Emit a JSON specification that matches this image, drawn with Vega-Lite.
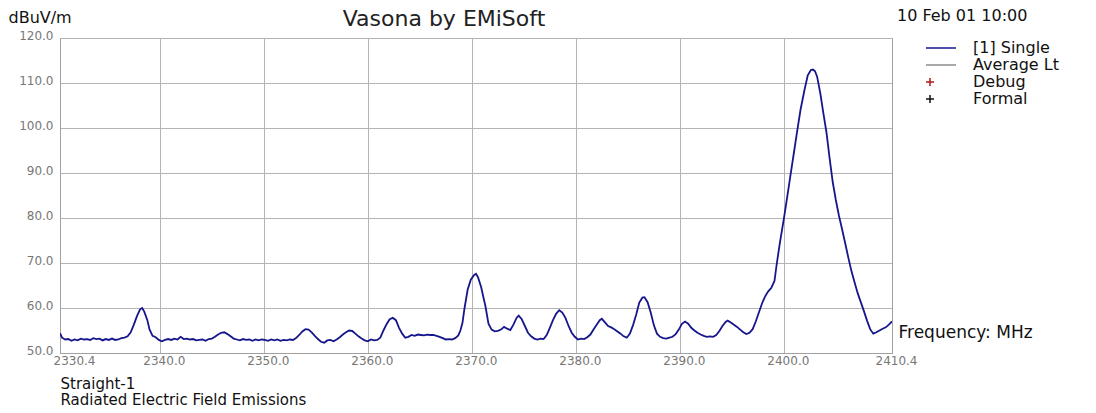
{
  "$schema": "https://vega.github.io/schema/vega-lite/v6.json",
  "autosize": "none",
  "width": 832,
  "height": 315,
  "padding": {"left": 60, "top": 38, "right": 204, "bottom": 60},
  "background": "white",
  "config": {
    "font": "DejaVu Sans",
    "view": {"stroke": "#a0a0a0", "strokeWidth": 1}
  },
  "title": {
    "text": "Vasona by EMiSoft",
    "fontSize": 22,
    "font": "DejaVu Sans",
    "fontWeight": "normal",
    "color": "#222222",
    "anchor": "middle",
    "dx": -32,
    "dy": 31,
    "offset": 8
  },
  "data": {
    "values": [
      {"f": 2330.4, "v": 54.4, "s": "[1] Single"},
      {"f": 2330.6, "v": 53.4, "s": "[1] Single"},
      {"f": 2330.9, "v": 53.0, "s": "[1] Single"},
      {"f": 2331.2, "v": 53.1, "s": "[1] Single"},
      {"f": 2331.5, "v": 52.7, "s": "[1] Single"},
      {"f": 2331.8, "v": 53.0, "s": "[1] Single"},
      {"f": 2332.1, "v": 52.8, "s": "[1] Single"},
      {"f": 2332.4, "v": 53.2, "s": "[1] Single"},
      {"f": 2332.7, "v": 53.0, "s": "[1] Single"},
      {"f": 2333.0, "v": 53.1, "s": "[1] Single"},
      {"f": 2333.3, "v": 52.9, "s": "[1] Single"},
      {"f": 2333.6, "v": 53.3, "s": "[1] Single"},
      {"f": 2333.9, "v": 53.1, "s": "[1] Single"},
      {"f": 2334.2, "v": 53.2, "s": "[1] Single"},
      {"f": 2334.5, "v": 52.8, "s": "[1] Single"},
      {"f": 2334.8, "v": 53.1, "s": "[1] Single"},
      {"f": 2335.1, "v": 52.9, "s": "[1] Single"},
      {"f": 2335.4, "v": 53.2, "s": "[1] Single"},
      {"f": 2335.7, "v": 52.9, "s": "[1] Single"},
      {"f": 2336.0, "v": 53.0, "s": "[1] Single"},
      {"f": 2336.3, "v": 53.3, "s": "[1] Single"},
      {"f": 2336.6, "v": 53.4, "s": "[1] Single"},
      {"f": 2336.9, "v": 53.7, "s": "[1] Single"},
      {"f": 2337.2, "v": 54.6, "s": "[1] Single"},
      {"f": 2337.5, "v": 56.3, "s": "[1] Single"},
      {"f": 2337.8, "v": 58.2, "s": "[1] Single"},
      {"f": 2338.1, "v": 59.7, "s": "[1] Single"},
      {"f": 2338.3, "v": 60.0, "s": "[1] Single"},
      {"f": 2338.5, "v": 59.2, "s": "[1] Single"},
      {"f": 2338.8, "v": 57.3, "s": "[1] Single"},
      {"f": 2339.0, "v": 55.3, "s": "[1] Single"},
      {"f": 2339.3, "v": 53.8, "s": "[1] Single"},
      {"f": 2339.6, "v": 53.5, "s": "[1] Single"},
      {"f": 2339.9, "v": 52.9, "s": "[1] Single"},
      {"f": 2340.2, "v": 52.6, "s": "[1] Single"},
      {"f": 2340.5, "v": 52.9, "s": "[1] Single"},
      {"f": 2340.8, "v": 53.1, "s": "[1] Single"},
      {"f": 2341.1, "v": 52.9, "s": "[1] Single"},
      {"f": 2341.4, "v": 53.2, "s": "[1] Single"},
      {"f": 2341.7, "v": 53.0, "s": "[1] Single"},
      {"f": 2342.0, "v": 53.6, "s": "[1] Single"},
      {"f": 2342.3, "v": 53.1, "s": "[1] Single"},
      {"f": 2342.6, "v": 53.2, "s": "[1] Single"},
      {"f": 2342.9, "v": 53.0, "s": "[1] Single"},
      {"f": 2343.2, "v": 53.1, "s": "[1] Single"},
      {"f": 2343.5, "v": 52.8, "s": "[1] Single"},
      {"f": 2343.8, "v": 52.9, "s": "[1] Single"},
      {"f": 2344.1, "v": 53.0, "s": "[1] Single"},
      {"f": 2344.4, "v": 52.7, "s": "[1] Single"},
      {"f": 2344.7, "v": 53.1, "s": "[1] Single"},
      {"f": 2345.0, "v": 53.2, "s": "[1] Single"},
      {"f": 2345.3, "v": 53.6, "s": "[1] Single"},
      {"f": 2345.6, "v": 54.1, "s": "[1] Single"},
      {"f": 2345.9, "v": 54.5, "s": "[1] Single"},
      {"f": 2346.2, "v": 54.6, "s": "[1] Single"},
      {"f": 2346.5, "v": 54.2, "s": "[1] Single"},
      {"f": 2346.8, "v": 53.7, "s": "[1] Single"},
      {"f": 2347.1, "v": 53.2, "s": "[1] Single"},
      {"f": 2347.4, "v": 53.0, "s": "[1] Single"},
      {"f": 2347.7, "v": 52.8, "s": "[1] Single"},
      {"f": 2348.0, "v": 53.1, "s": "[1] Single"},
      {"f": 2348.3, "v": 52.9, "s": "[1] Single"},
      {"f": 2348.6, "v": 53.0, "s": "[1] Single"},
      {"f": 2348.9, "v": 52.7, "s": "[1] Single"},
      {"f": 2349.2, "v": 53.0, "s": "[1] Single"},
      {"f": 2349.5, "v": 52.8, "s": "[1] Single"},
      {"f": 2349.8, "v": 53.0, "s": "[1] Single"},
      {"f": 2350.1, "v": 52.9, "s": "[1] Single"},
      {"f": 2350.4, "v": 52.7, "s": "[1] Single"},
      {"f": 2350.7, "v": 53.0, "s": "[1] Single"},
      {"f": 2351.0, "v": 52.8, "s": "[1] Single"},
      {"f": 2351.3, "v": 53.0, "s": "[1] Single"},
      {"f": 2351.6, "v": 52.7, "s": "[1] Single"},
      {"f": 2351.9, "v": 52.9, "s": "[1] Single"},
      {"f": 2352.2, "v": 52.8, "s": "[1] Single"},
      {"f": 2352.5, "v": 53.0, "s": "[1] Single"},
      {"f": 2352.8, "v": 52.9, "s": "[1] Single"},
      {"f": 2353.1, "v": 53.3, "s": "[1] Single"},
      {"f": 2353.4, "v": 54.0, "s": "[1] Single"},
      {"f": 2353.7, "v": 54.8, "s": "[1] Single"},
      {"f": 2354.0, "v": 55.3, "s": "[1] Single"},
      {"f": 2354.3, "v": 55.2, "s": "[1] Single"},
      {"f": 2354.6, "v": 54.6, "s": "[1] Single"},
      {"f": 2354.9, "v": 53.8, "s": "[1] Single"},
      {"f": 2355.2, "v": 53.1, "s": "[1] Single"},
      {"f": 2355.5, "v": 52.5, "s": "[1] Single"},
      {"f": 2355.8, "v": 52.3, "s": "[1] Single"},
      {"f": 2356.1, "v": 52.8, "s": "[1] Single"},
      {"f": 2356.4, "v": 52.9, "s": "[1] Single"},
      {"f": 2356.7, "v": 52.6, "s": "[1] Single"},
      {"f": 2357.0, "v": 53.0, "s": "[1] Single"},
      {"f": 2357.3, "v": 53.5, "s": "[1] Single"},
      {"f": 2357.6, "v": 54.1, "s": "[1] Single"},
      {"f": 2357.9, "v": 54.6, "s": "[1] Single"},
      {"f": 2358.2, "v": 55.0, "s": "[1] Single"},
      {"f": 2358.5, "v": 54.9, "s": "[1] Single"},
      {"f": 2358.8, "v": 54.3, "s": "[1] Single"},
      {"f": 2359.1, "v": 53.7, "s": "[1] Single"},
      {"f": 2359.4, "v": 53.2, "s": "[1] Single"},
      {"f": 2359.7, "v": 52.8, "s": "[1] Single"},
      {"f": 2360.0, "v": 52.6, "s": "[1] Single"},
      {"f": 2360.3, "v": 53.0, "s": "[1] Single"},
      {"f": 2360.6, "v": 52.8, "s": "[1] Single"},
      {"f": 2360.9, "v": 52.9, "s": "[1] Single"},
      {"f": 2361.2, "v": 53.4, "s": "[1] Single"},
      {"f": 2361.5, "v": 55.0, "s": "[1] Single"},
      {"f": 2361.8, "v": 56.4, "s": "[1] Single"},
      {"f": 2362.1, "v": 57.5, "s": "[1] Single"},
      {"f": 2362.4, "v": 57.8, "s": "[1] Single"},
      {"f": 2362.7, "v": 57.3, "s": "[1] Single"},
      {"f": 2363.0, "v": 55.6, "s": "[1] Single"},
      {"f": 2363.3, "v": 54.3, "s": "[1] Single"},
      {"f": 2363.6, "v": 53.4, "s": "[1] Single"},
      {"f": 2363.9, "v": 53.6, "s": "[1] Single"},
      {"f": 2364.2, "v": 54.0, "s": "[1] Single"},
      {"f": 2364.5, "v": 53.8, "s": "[1] Single"},
      {"f": 2364.8, "v": 54.1, "s": "[1] Single"},
      {"f": 2365.1, "v": 54.0, "s": "[1] Single"},
      {"f": 2365.4, "v": 53.9, "s": "[1] Single"},
      {"f": 2365.7, "v": 54.1, "s": "[1] Single"},
      {"f": 2366.0, "v": 54.0, "s": "[1] Single"},
      {"f": 2366.3, "v": 54.0, "s": "[1] Single"},
      {"f": 2366.6, "v": 53.8, "s": "[1] Single"},
      {"f": 2366.9, "v": 53.6, "s": "[1] Single"},
      {"f": 2367.2, "v": 53.3, "s": "[1] Single"},
      {"f": 2367.5, "v": 53.0, "s": "[1] Single"},
      {"f": 2367.8, "v": 53.1, "s": "[1] Single"},
      {"f": 2368.1, "v": 53.0, "s": "[1] Single"},
      {"f": 2368.4, "v": 53.3, "s": "[1] Single"},
      {"f": 2368.7, "v": 53.9, "s": "[1] Single"},
      {"f": 2368.9, "v": 55.0, "s": "[1] Single"},
      {"f": 2369.1, "v": 56.7, "s": "[1] Single"},
      {"f": 2369.3, "v": 60.0, "s": "[1] Single"},
      {"f": 2369.6, "v": 64.1, "s": "[1] Single"},
      {"f": 2369.9, "v": 66.3, "s": "[1] Single"},
      {"f": 2370.2, "v": 67.3, "s": "[1] Single"},
      {"f": 2370.4, "v": 67.6, "s": "[1] Single"},
      {"f": 2370.6, "v": 66.8, "s": "[1] Single"},
      {"f": 2370.9, "v": 64.6, "s": "[1] Single"},
      {"f": 2371.1, "v": 62.5, "s": "[1] Single"},
      {"f": 2371.3, "v": 60.5, "s": "[1] Single"},
      {"f": 2371.6, "v": 56.5, "s": "[1] Single"},
      {"f": 2371.9, "v": 55.2, "s": "[1] Single"},
      {"f": 2372.2, "v": 54.8, "s": "[1] Single"},
      {"f": 2372.5, "v": 54.9, "s": "[1] Single"},
      {"f": 2372.8, "v": 55.2, "s": "[1] Single"},
      {"f": 2373.1, "v": 55.8, "s": "[1] Single"},
      {"f": 2373.4, "v": 55.4, "s": "[1] Single"},
      {"f": 2373.7, "v": 55.1, "s": "[1] Single"},
      {"f": 2374.0, "v": 56.3, "s": "[1] Single"},
      {"f": 2374.3, "v": 57.8, "s": "[1] Single"},
      {"f": 2374.5, "v": 58.3, "s": "[1] Single"},
      {"f": 2374.8, "v": 57.5, "s": "[1] Single"},
      {"f": 2375.1, "v": 56.0, "s": "[1] Single"},
      {"f": 2375.4, "v": 54.5, "s": "[1] Single"},
      {"f": 2375.7, "v": 53.7, "s": "[1] Single"},
      {"f": 2376.0, "v": 53.2, "s": "[1] Single"},
      {"f": 2376.3, "v": 53.0, "s": "[1] Single"},
      {"f": 2376.6, "v": 53.2, "s": "[1] Single"},
      {"f": 2376.9, "v": 53.1, "s": "[1] Single"},
      {"f": 2377.2, "v": 54.0, "s": "[1] Single"},
      {"f": 2377.5, "v": 55.6, "s": "[1] Single"},
      {"f": 2377.8, "v": 57.3, "s": "[1] Single"},
      {"f": 2378.1, "v": 58.7, "s": "[1] Single"},
      {"f": 2378.4, "v": 59.5, "s": "[1] Single"},
      {"f": 2378.7, "v": 59.0, "s": "[1] Single"},
      {"f": 2379.0, "v": 57.8, "s": "[1] Single"},
      {"f": 2379.3, "v": 56.0, "s": "[1] Single"},
      {"f": 2379.6, "v": 54.5, "s": "[1] Single"},
      {"f": 2379.9, "v": 53.6, "s": "[1] Single"},
      {"f": 2380.2, "v": 53.0, "s": "[1] Single"},
      {"f": 2380.5, "v": 53.2, "s": "[1] Single"},
      {"f": 2380.8, "v": 53.1, "s": "[1] Single"},
      {"f": 2381.1, "v": 53.5, "s": "[1] Single"},
      {"f": 2381.4, "v": 54.1, "s": "[1] Single"},
      {"f": 2381.7, "v": 55.2, "s": "[1] Single"},
      {"f": 2382.0, "v": 56.3, "s": "[1] Single"},
      {"f": 2382.3, "v": 57.3, "s": "[1] Single"},
      {"f": 2382.5, "v": 57.6, "s": "[1] Single"},
      {"f": 2382.8, "v": 56.8, "s": "[1] Single"},
      {"f": 2383.1, "v": 56.0, "s": "[1] Single"},
      {"f": 2383.4, "v": 55.7, "s": "[1] Single"},
      {"f": 2383.7, "v": 55.3, "s": "[1] Single"},
      {"f": 2384.0, "v": 54.8, "s": "[1] Single"},
      {"f": 2384.3, "v": 54.3, "s": "[1] Single"},
      {"f": 2384.6, "v": 53.7, "s": "[1] Single"},
      {"f": 2384.9, "v": 53.4, "s": "[1] Single"},
      {"f": 2385.2, "v": 54.3, "s": "[1] Single"},
      {"f": 2385.5, "v": 56.2, "s": "[1] Single"},
      {"f": 2385.8, "v": 58.5, "s": "[1] Single"},
      {"f": 2386.1, "v": 61.2, "s": "[1] Single"},
      {"f": 2386.4, "v": 62.3, "s": "[1] Single"},
      {"f": 2386.6, "v": 62.4, "s": "[1] Single"},
      {"f": 2386.9, "v": 61.3, "s": "[1] Single"},
      {"f": 2387.2, "v": 59.0, "s": "[1] Single"},
      {"f": 2387.5, "v": 56.2, "s": "[1] Single"},
      {"f": 2387.8, "v": 54.3, "s": "[1] Single"},
      {"f": 2388.1, "v": 53.6, "s": "[1] Single"},
      {"f": 2388.4, "v": 53.3, "s": "[1] Single"},
      {"f": 2388.7, "v": 53.2, "s": "[1] Single"},
      {"f": 2389.0, "v": 53.4, "s": "[1] Single"},
      {"f": 2389.3, "v": 53.6, "s": "[1] Single"},
      {"f": 2389.6, "v": 54.2, "s": "[1] Single"},
      {"f": 2389.9, "v": 55.2, "s": "[1] Single"},
      {"f": 2390.2, "v": 56.5, "s": "[1] Single"},
      {"f": 2390.5, "v": 57.0, "s": "[1] Single"},
      {"f": 2390.8, "v": 56.5, "s": "[1] Single"},
      {"f": 2391.1, "v": 55.6, "s": "[1] Single"},
      {"f": 2391.4, "v": 55.0, "s": "[1] Single"},
      {"f": 2391.7, "v": 54.5, "s": "[1] Single"},
      {"f": 2392.0, "v": 54.1, "s": "[1] Single"},
      {"f": 2392.3, "v": 53.8, "s": "[1] Single"},
      {"f": 2392.6, "v": 53.6, "s": "[1] Single"},
      {"f": 2392.9, "v": 53.7, "s": "[1] Single"},
      {"f": 2393.2, "v": 53.6, "s": "[1] Single"},
      {"f": 2393.5, "v": 54.0, "s": "[1] Single"},
      {"f": 2393.8, "v": 54.9, "s": "[1] Single"},
      {"f": 2394.1, "v": 56.0, "s": "[1] Single"},
      {"f": 2394.4, "v": 56.9, "s": "[1] Single"},
      {"f": 2394.6, "v": 57.2, "s": "[1] Single"},
      {"f": 2394.9, "v": 56.8, "s": "[1] Single"},
      {"f": 2395.2, "v": 56.3, "s": "[1] Single"},
      {"f": 2395.5, "v": 55.8, "s": "[1] Single"},
      {"f": 2395.8, "v": 55.2, "s": "[1] Single"},
      {"f": 2396.1, "v": 54.6, "s": "[1] Single"},
      {"f": 2396.4, "v": 54.2, "s": "[1] Single"},
      {"f": 2396.7, "v": 54.5, "s": "[1] Single"},
      {"f": 2397.0, "v": 55.3, "s": "[1] Single"},
      {"f": 2397.3, "v": 57.0, "s": "[1] Single"},
      {"f": 2397.6, "v": 59.0, "s": "[1] Single"},
      {"f": 2397.9, "v": 61.0, "s": "[1] Single"},
      {"f": 2398.2, "v": 62.6, "s": "[1] Single"},
      {"f": 2398.5, "v": 63.7, "s": "[1] Single"},
      {"f": 2398.8, "v": 64.5, "s": "[1] Single"},
      {"f": 2399.1, "v": 66.0, "s": "[1] Single"},
      {"f": 2399.3, "v": 69.5, "s": "[1] Single"},
      {"f": 2399.6, "v": 74.2, "s": "[1] Single"},
      {"f": 2400.0, "v": 79.8, "s": "[1] Single"},
      {"f": 2400.3, "v": 84.3, "s": "[1] Single"},
      {"f": 2400.6, "v": 88.9, "s": "[1] Single"},
      {"f": 2401.0, "v": 95.0, "s": "[1] Single"},
      {"f": 2401.3, "v": 99.6, "s": "[1] Single"},
      {"f": 2401.6, "v": 104.0, "s": "[1] Single"},
      {"f": 2402.0, "v": 108.6, "s": "[1] Single"},
      {"f": 2402.3, "v": 111.7, "s": "[1] Single"},
      {"f": 2402.6, "v": 112.9, "s": "[1] Single"},
      {"f": 2402.8, "v": 113.0, "s": "[1] Single"},
      {"f": 2403.0, "v": 112.6, "s": "[1] Single"},
      {"f": 2403.2, "v": 111.4, "s": "[1] Single"},
      {"f": 2403.5, "v": 107.8, "s": "[1] Single"},
      {"f": 2403.8, "v": 103.3, "s": "[1] Single"},
      {"f": 2404.1, "v": 99.0, "s": "[1] Single"},
      {"f": 2404.4, "v": 93.3, "s": "[1] Single"},
      {"f": 2404.7, "v": 88.0, "s": "[1] Single"},
      {"f": 2405.0, "v": 84.0, "s": "[1] Single"},
      {"f": 2405.3, "v": 80.5, "s": "[1] Single"},
      {"f": 2405.6, "v": 77.5, "s": "[1] Single"},
      {"f": 2405.9, "v": 74.4, "s": "[1] Single"},
      {"f": 2406.2, "v": 71.2, "s": "[1] Single"},
      {"f": 2406.5, "v": 68.2, "s": "[1] Single"},
      {"f": 2406.8, "v": 65.7, "s": "[1] Single"},
      {"f": 2407.1, "v": 63.3, "s": "[1] Single"},
      {"f": 2407.4, "v": 61.3, "s": "[1] Single"},
      {"f": 2407.7, "v": 59.3, "s": "[1] Single"},
      {"f": 2408.0, "v": 57.2, "s": "[1] Single"},
      {"f": 2408.3, "v": 55.3, "s": "[1] Single"},
      {"f": 2408.6, "v": 54.3, "s": "[1] Single"},
      {"f": 2408.9, "v": 54.6, "s": "[1] Single"},
      {"f": 2409.2, "v": 55.0, "s": "[1] Single"},
      {"f": 2409.5, "v": 55.4, "s": "[1] Single"},
      {"f": 2409.8, "v": 55.7, "s": "[1] Single"},
      {"f": 2410.1, "v": 56.3, "s": "[1] Single"},
      {"f": 2410.4, "v": 57.0, "s": "[1] Single"}
    ]
  },
  "layer": [
    {
      "mark": {"type": "line", "strokeWidth": 1.8, "clip": true},
      "encoding": {
        "x": {
          "field": "f",
          "type": "quantitative",
          "scale": {"domain": [2330.4, 2410.4], "nice": false, "zero": false},
          "axis": {
            "values": [2330.4, 2340, 2350, 2360, 2370, 2380, 2390, 2400, 2410.4],
            "format": ".1f",
            "labelFont": "DejaVu Sans",
            "labelFontSize": 12,
            "labelColor": "#777777",
            "labelPadding": 2,
            "labelFlush": false,
            "labelOffset": {"expr": "datum.value < 2331 ? 14 : 4"},
            "ticks": false,
            "domainColor": "#a0a0a0",
            "grid": true,
            "gridColor": "#b4b4b4",
            "gridOpacity": 1,
            "title": ["Straight-1", "Radiated Electric Field Emissions"],
            "titleFont": "DejaVu Sans",
            "titleFontSize": 15,
            "titleFontWeight": "normal",
            "titleColor": "#111111",
            "titleAnchor": "start",
            "titleAlign": "left",
            "titleBaseline": "top",
            "titleX": 0,
            "titleY": 23,
            "titleLineHeight": 16
          }
        },
        "y": {
          "field": "v",
          "type": "quantitative",
          "scale": {"domain": [50, 120], "nice": false, "zero": false},
          "axis": {
            "values": [50, 60, 70, 80, 90, 100, 110, 120],
            "format": ".1f",
            "labelFont": "DejaVu Sans",
            "labelFontSize": 12,
            "labelColor": "#777777",
            "labelPadding": 7,
            "labelOffset": -3,
            "ticks": false,
            "domainColor": "#a0a0a0",
            "gridColor": "#b4b4b4",
            "gridOpacity": 1,
            "title": "dBuV/m",
            "titleFont": "DejaVu Sans",
            "titleFontSize": 16,
            "titleFontWeight": "normal",
            "titleColor": "#111111",
            "titleAngle": 0,
            "titleAlign": "left",
            "titleBaseline": "middle",
            "titleX": -52,
            "titleY": -21
          }
        },
        "color": {
          "field": "s",
          "type": "nominal",
          "scale": {
            "domain": ["[1] Single", "Average Lt", "Debug", "Formal"],
            "range": ["#16168c", "#8c8c8c", "#b01818", "#111111"]
          },
          "legend": {
            "orient": "none",
            "legendX": 837,
            "legendY": -30,
            "padding": 0,
            "title": "10 Feb 01 10:00",
            "titleFont": "DejaVu Sans",
            "titleFontSize": 16,
            "titleFontWeight": "normal",
            "titleColor": "#111111",
            "titlePadding": 16,
            "labelFont": "DejaVu Sans",
            "labelFontSize": 16,
            "labelColor": "#111111",
            "labelOffset": 24,
            "symbolSize": 100,
            "symbolStrokeWidth": 1.5,
            "rowPadding": 1,
            "encode": {
              "title": {"update": {"dx": {"value": -36}}},
              "symbols": {
                "update": {
                  "shape": {"signal": "indexof(['Debug','Formal'], datum.value) >= 0 ? 'M-3,0H-1.4M-2.2,-0.8V0.8' : 'M-3,0H3'"}
                }
              }
            }
          }
        }
      }
    },
    {
      "mark": {"type": "line", "strokeOpacity": 0},
      "encoding": {
        "x": {"field": "f", "type": "quantitative"},
        "y": {
          "field": "v",
          "type": "quantitative",
          "axis": {
            "orient": "right",
            "labels": false,
            "ticks": false,
            "grid": false,
            "domainColor": "#a0a0a0",
            "title": "Frequency: MHz",
            "titleFont": "DejaVu Sans",
            "titleFontSize": 17,
            "titleFontWeight": "normal",
            "titleColor": "#111111",
            "titleAngle": 0,
            "titleAlign": "left",
            "titleBaseline": "middle",
            "titleX": 6,
            "titleY": 294
          }
        }
      }
    }
  ],
  "resolve": {"axis": {"y": "independent"}}
}
